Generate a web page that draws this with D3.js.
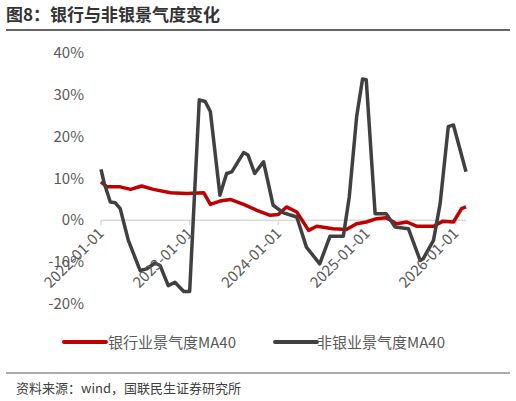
<!DOCTYPE html>
<html><head><meta charset="utf-8">
<script src="https://cdn.jsdelivr.net/npm/d3@7"></script>
<style>body{margin:0;background:#fff}svg{font-family:"Microsoft YaHei","Noto Sans CJK SC",sans-serif}</style>
</head><body><svg id="c" width="516" height="401"></svg>
<script>
const xTickLabels = ["2022-01-01","2023-01-01","2024-01-01","2025-01-01","2026-01-01"];
const xTickMonths = [0,12,24,36,48];
const yTicks = [-20,-10,0,10,20,30,40];
const bankMonths = [0,0.8,2.6,4.0,5.5,7.1,9.4,11.6,13.9,14.8,16.1,17.5,19.3,21.1,22.9,24.0,25.1,26.5,28.1,29.2,31.4,33.2,34.6,35.9,37.3,38.6,40.0,41.4,42.7,45.0,46.3,47.7,48.8,49.4];
const bankValues = [9.2,8,8,7.4,8.2,7.4,6.6,6.4,6.6,3.8,4.6,5,3.8,2.4,1.2,1.4,3.2,2,-2.4,-1.4,-2,-2.2,-0.8,-0.4,0.4,0.6,-0.8,-0.4,-1.4,-1.4,-0.2,-0.4,2.8,3.2];
const nonbankMonths = [0,0.45,1.26,1.94,2.6,3.7,5.3,6.2,7.3,8.0,9.1,10.0,11.2,12.0,13.3,14.1,14.8,16.1,17.0,17.7,19.3,19.9,20.8,22.0,23.3,24.7,26.5,27.8,29.6,31.0,32.8,33.6,34.6,35.4,35.9,37.1,38.6,39.8,41.6,43.2,43.6,45.0,45.9,47.0,47.7,49.4];
const nonbankValues = [12.2,8.8,4.4,4.2,2.8,-4.8,-12,-11.6,-10.2,-10.8,-15.6,-14.8,-17,-17,28.8,28.4,26,6,11.2,11.6,16.2,15.6,11.2,14,3.6,1.8,0.8,-6.4,-10.4,-3.8,-3.8,5.6,24.8,33.8,33.6,1.6,1.6,-1.6,-2,-9.6,-9.2,-4.8,4,22.4,22.8,11.6];
const seriesNames = ["银行业景气度MA40","非银业景气度MA40"];
const colors = ["#C00000","#404040"];

const svg = d3.select("#c");
const x = d3.scaleLinear().domain([0,49.4]).range([101,466]);
const y = d3.scaleLinear().domain([-20,40]).range([304,53]);

svg.append("text").attr("x",6).attr("y",21).attr("font-size",17).attr("font-weight","bold").attr("fill","#333").text("图8：银行与非银景气度变化");
svg.append("line").attr("x1",6).attr("x2",510).attr("y1",30).attr("y2",30).attr("stroke","#333").attr("stroke-width",1.5);

svg.selectAll(".yl").data(yTicks).enter().append("text").attr("x",84).attr("y",d=>y(d)+5)
 .attr("text-anchor","end").attr("font-size",15).attr("fill","#595959").text(d=>d+"%");

svg.append("line").attr("x1",101).attr("x2",466).attr("y1",y(0)).attr("y2",y(0)).attr("stroke","#d9d9d9").attr("stroke-width",1.5);
svg.selectAll(".xt").data(xTickMonths).enter().append("line").attr("x1",d=>x(d)).attr("x2",d=>x(d))
 .attr("y1",y(0)).attr("y2",y(0)+5).attr("stroke","#d9d9d9").attr("stroke-width",1.5);

const line = d3.line().x(d=>x(d[0])).y(d=>y(d[1]));
svg.append("path").datum(bankMonths.map((m,i)=>[m,bankValues[i]])).attr("d",line).attr("fill","none").attr("stroke",colors[0]).attr("stroke-width",3.5).attr("stroke-linejoin","round");
svg.append("path").datum(nonbankMonths.map((m,i)=>[m,nonbankValues[i]])).attr("d",line).attr("fill","none").attr("stroke",colors[1]).attr("stroke-width",3.5).attr("stroke-linejoin","round");

svg.selectAll(".xl").data(xTickMonths).enter().append("text")
 .attr("transform",d=>`translate(${x(d)+4},${y(0)+14}) rotate(-45)`)
 .attr("text-anchor","end").attr("font-size",15).attr("fill","#595959").text((d,i)=>xTickLabels[i]);

const lg=[[64,108],[275,317]];
seriesNames.forEach((n,i)=>{
 svg.append("line").attr("x1",lg[i][0]).attr("x2",lg[i][0]+42).attr("y1",342).attr("y2",342).attr("stroke",colors[i]).attr("stroke-width",4).attr("stroke-linecap","round");
 svg.append("text").attr("x",lg[i][1]).attr("y",348).attr("font-size",15).attr("fill","#595959").text(n);
});
svg.append("line").attr("x1",6).attr("x2",510).attr("y1",373).attr("y2",373).attr("stroke","#595959").attr("stroke-width",1.2);
svg.append("text").attr("x",16).attr("y",393).attr("font-size",13).attr("fill","#404040").text("资料来源：wind，国联民生证券研究所");
</script></body></html>
